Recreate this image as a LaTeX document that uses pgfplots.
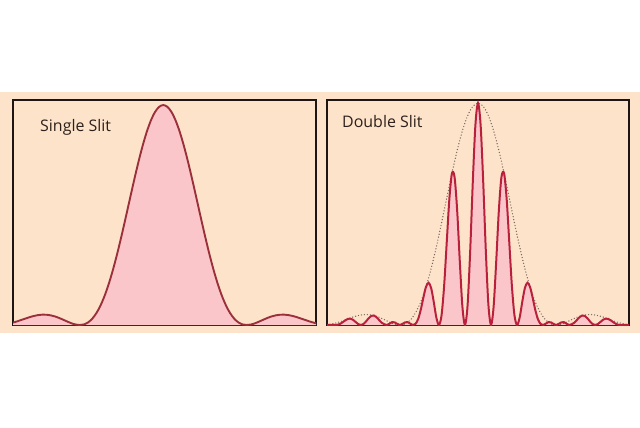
\documentclass[border=0pt]{standalone}
\usepackage{pgfplots}
\usepackage{pgfplotstable}
\pgfplotsset{compat=1.18}
\usepackage{fontspec}
\setmainfont{Open Sans}
\definecolor{beige}{RGB}{252,227,202}
\definecolor{pinkc}{RGB}{251,198,202}
\definecolor{lineL}{RGB}{155,48,58}
\definecolor{lineR}{RGB}{185,32,60}
\definecolor{boxc}{RGB}{30,20,20}
\definecolor{envc}{RGB}{120,100,95}
\definecolor{txtc}{RGB}{45,32,28}

\pgfplotstableread{
x y
-1.80 0.01080
-1.75 0.01654
-1.70 0.02295
-1.65 0.02955
-1.60 0.03580
-1.55 0.04114
-1.50 0.04503
-1.45 0.04701
-1.40 0.04676
-1.35 0.04414
-1.30 0.03924
-1.25 0.03242
-1.20 0.02431
-1.15 0.01579
-1.10 0.00800
-1.05 0.00225
-1.00 0
-0.95 0.00275
-0.90 0.01195
-0.85 0.02890
-0.80 0.05470
-0.75 0.09006
-0.70 0.13534
-0.65 0.19039
-0.60 0.25457
-0.55 0.32675
-0.50 0.40528
-0.45 0.48811
-0.40 0.57279
-0.35 0.65665
-0.30 0.73684
-0.25 0.81058
-0.20 0.87514
-0.15 0.92814
-0.10 0.96755
-0.05 0.99176
0.00 1
0.05 0.99176
0.10 0.96755
0.15 0.92814
0.20 0.87514
0.25 0.81058
0.30 0.73684
0.35 0.65665
0.40 0.57279
0.45 0.48811
0.50 0.40528
0.55 0.32675
0.60 0.25457
0.65 0.19039
0.70 0.13534
0.75 0.09006
0.80 0.05470
0.85 0.02890
0.90 0.01195
0.95 0.00275
1.00 0
1.05 0.00225
1.10 0.00800
1.15 0.01579
1.20 0.02431
1.25 0.03242
1.30 0.03924
1.35 0.04414
1.40 0.04676
1.45 0.04701
1.50 0.04503
1.55 0.04114
1.60 0.03580
1.65 0.02955
1.70 0.02295
1.75 0.01654
1.80 0.01080
1.83 0.00780
}\single

\pgfplotstableread{
x y
-5.8 0.00077
-5.7 0.00093
-5.6 0.00046
-5.5 0
-5.4 0.00103
-5.3 0.00502
-5.2 0.01219
-5.1 0.02076
-5.0 0.02736
-4.9 0.02867
-4.8 0.02343
-4.7 0.01365
-4.6 0.00407
-4.5 0
-4.4 0.00445
-4.3 0.01630
-4.2 0.03060
-4.1 0.04095
-4.0 0.04274
-3.9 0.03549
-3.8 0.02283
-3.7 0.01030
-3.6 0.00350
-3.5 0
-3.4 0.006
-3.3 0.013
-3.2 0.012
-3.1 0.005
-3.0 0
-2.9 0.005
-2.8 0.012
-2.7 0.013
-2.6 0.006
-2.5 0
-2.4 0.00522
-2.3 0.02667
-2.2 0.06810
-2.1 0.12242
-2.0 0.17098
-1.9 0.19068
-1.8 0.16662
-1.7 0.10430
-1.6 0.03364
-1.5 0
-1.4 0.04394
-1.3 0.17836
-1.2 0.37490
-1.1 0.56889
-1.0 0.68392
-0.9 0.66648
-0.8 0.51502
-0.7 0.28788
-0.6 0.08357
-0.5 0
-0.4 0.09003
-0.3 0.33427
-0.2 0.64499
-0.1 0.90120
0.0 1
0.1 0.90120
0.2 0.64499
0.3 0.33427
0.4 0.09003
0.5 0
0.6 0.08357
0.7 0.28788
0.8 0.51502
0.9 0.66648
1.0 0.68392
1.1 0.56889
1.2 0.37490
1.3 0.17836
1.4 0.04394
1.5 0
1.6 0.03364
1.7 0.10430
1.8 0.16662
1.9 0.19068
2.0 0.17098
2.1 0.12242
2.2 0.06810
2.3 0.02667
2.4 0.00522
2.5 0
2.6 0.006
2.7 0.013
2.8 0.012
2.9 0.005
3.0 0
3.1 0.005
3.2 0.012
3.3 0.013
3.4 0.006
3.5 0
3.6 0.00350
3.7 0.01030
3.8 0.02283
3.9 0.03549
4.0 0.04274
4.1 0.04095
4.2 0.03060
4.3 0.01630
4.4 0.00445
4.5 0
4.6 0.00407
4.7 0.01365
4.8 0.02343
4.9 0.02867
5.0 0.02736
5.1 0.02076
5.2 0.01219
5.3 0.00502
5.4 0.00103
5.5 0
5.6 0.00046
5.7 0.00093
5.8 0.00077
}\double

\pgfplotstableread{
x y
-5.8 0.00117
-5.6 0.00481
-5.4 0.01080
-5.2 0.01862
-5.0 0.02736
-4.8 0.03580
-4.6 0.04262
-4.4 0.04659
-4.2 0.04676
-4.0 0.04274
-3.8 0.03488
-3.6 0.02431
-3.4 0.01305
-3.2 0.00385
-3.0 0
-2.8 0.00503
-2.6 0.02232
-2.4 0.05470
-2.2 0.10405
-2.0 0.17098
-1.8 0.25457
-1.6 0.35232
-1.4 0.46017
-1.2 0.57279
-1.0 0.68392
-0.8 0.78688
-0.6 0.87514
-0.4 0.94287
-0.2 0.98546
0.0 1
0.2 0.98546
0.4 0.94287
0.6 0.87514
0.8 0.78688
1.0 0.68392
1.2 0.57279
1.4 0.46017
1.6 0.35232
1.8 0.25457
2.0 0.17098
2.2 0.10405
2.4 0.05470
2.6 0.02232
2.8 0.00503
3.0 0
3.2 0.00385
3.4 0.01305
3.6 0.02431
3.8 0.03488
4.0 0.04274
4.2 0.04676
4.4 0.04659
4.6 0.04262
4.8 0.03580
5.0 0.02736
5.2 0.01862
5.4 0.01080
5.6 0.00481
5.8 0.00117
}\envelope

\begin{document}
\begin{tikzpicture}[x=1bp,y=1bp]
\useasboundingbox (0,0) rectangle (640,427);
\fill[beige] (0,94) rectangle (640,335);

\begin{axis}[
  at={(13bp,102bp)}, anchor=south west,
  scale only axis, width=303bp, height=225bp,
  xmin=-1.8, xmax=1.83, ymin=0, ymax=1.023,
  ticks=none,
  axis line style={line width=1.4pt, color=boxc},
]
\addplot[fill=pinkc, draw=none, smooth] table {\single} \closedcycle;
\addplot[draw=lineL, line width=1.9pt, smooth] table {\single};
\end{axis}
\node[anchor=west, inner sep=0pt, text=txtc, font=\fontsize{16}{18}\selectfont] at (40,300) {Single Slit};

\begin{axis}[
  at={(327bp,102bp)}, anchor=south west,
  scale only axis, width=302bp, height=225bp,
  xmin=-5.8, xmax=5.8, ymin=0, ymax=1.014,
  ticks=none,
  axis line style={line width=1.4pt, color=boxc},
]
\addplot[fill=pinkc, draw=none, smooth] table {\double} \closedcycle;
\addplot[draw=envc, line width=1.4pt, line cap=round, dash pattern=on 0pt off 3pt, smooth] table {\envelope};
\addplot[draw=lineR, line width=2pt, smooth] table {\double};
\end{axis}
\node[anchor=west, inner sep=0pt, text=txtc, font=\fontsize{16}{18}\selectfont] at (342,305) {Double Slit};
\end{tikzpicture}
\end{document}
